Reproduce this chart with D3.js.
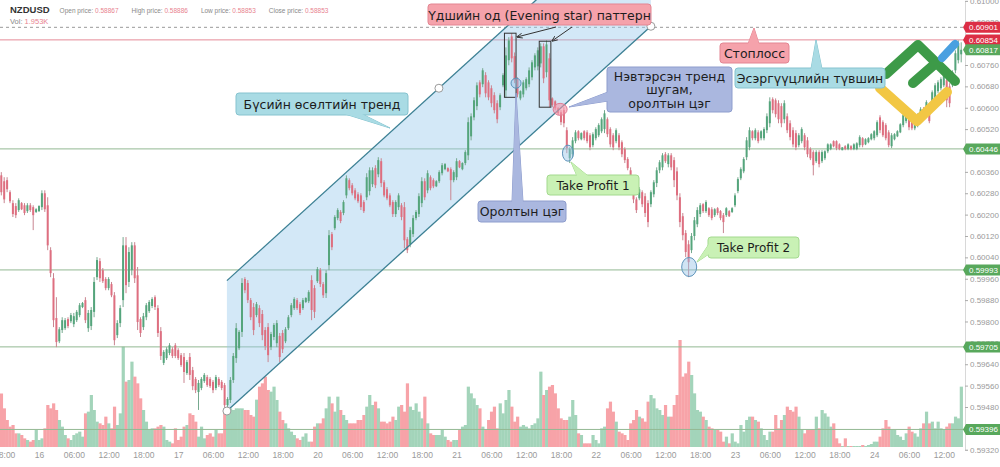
<!DOCTYPE html>
<html><head><meta charset="utf-8">
<script src="https://cdnjs.cloudflare.com/ajax/libs/d3/7.8.5/d3.min.js"></script>
<style>body{margin:0;background:#fff;} svg{display:block;font-family:"DejaVu Sans",Verdana,sans-serif;}</style>
</head><body><svg id="c" width="1000" height="467"></svg>
<script>
// first candle slot (30-minute slots counted from day 16 00:00)
const firstSlot = -13;
const open = [.60347,.60325,.60329,.60284,.60243,.60232,.60217,.60243,.60235,.60213,.60235,.60228,.60210,
.60213,.60228,.60280,.60235,.60067,.59962,.59813,.59726,.59768,.59775,.59809,.59801,.59790,.59805,.59824,.59854,.59880,.59775,.59783,.59836,.59966,.60026,.59992,.59959,.59925,.59940,.59898,.59749,.59794,
.59880,.60085,.59948,.59992,.60085,.59973,.59809,.59779,.59816,.59839,.59858,.59891,.59850,.59764,.59645,.59663,.59682,.59696,.59711,.59693,.59674,.59667,.59607,.59667,.59618,.59585,.59536,.59551,
.59577,.59592,.59585,.59574,.59551,.59585,.59574,.59562,.59487,.59506,.59581,.59663,.59700,.59761,.59959,.59944,.59880,.59854,.59824,.59850,.59828,.59768,.59779,.59704,.59742,.59719,.59746,.59757,
.59726,.59775,.59824,.59850,.59880,.59865,.59850,.59873,.59876,.59955,.59925,.59951,.59992,.59940,.59906,.60011,.60127,.60149,.60187,.60210,.60206,.60272,.60329,.60310,.60291,.60276,.60272,.60247,
.60265,.60288,.60314,.60374,.60351,.60400,.60321,.60295,.60272,.60247,.60202,.60228,.60235,.60228,.60108,.60089,.60127,.60187,.60202,.60243,.60325,.60291,.60340,.60329,.60306,.60325,.60355,.60370,
.60374,.60370,.60329,.60340,.60400,.60370,.60393,.60422,.60493,.60564,.60606,.60695,.60688,.60722,.60695,.60673,.60647,.60617,.60602,.60684,.60665,.60778,.60867,.60793,.60707,.60635,.60650,.60673,
.60688,.60714,.60751,.60755,.60766,.60830,.60733,.60785,.60635,.60624,.60598,.60583,.60591,.60516,.60411,.60426,.60475,.60512,.60482,.60512,.60508,.60497,.60460,.60486,.60497,.60512,.60520,.60557,
.60520,.60497,.60475,.60497,.60471,.60445,.60408,.60366,.60318,.60257,.60261,.60284,.60269,.60243,.60239,.60276,.60318,.60366,.60377,.60426,.60389,.60422,.60404,.60362,.60265,.60194,.60131,.60089,
.60067,.60120,.60164,.60202,.60239,.60213,.60224,.60220,.60198,.60224,.60213,.60198,.60198,.60213,.60210,.60235,.60288,.60336,.60362,.60415,.60452,.60512,.60486,.60508,.60486,.60486,.60516,.60542,
.60632,.60628,.60617,.60606,.60557,.60568,.60542,.60516,.60505,.60460,.60475,.60497,.60478,.60445,.60434,.60400,.60434,.60400,.60411,.60437,.60445,.60475,.60475,.60463,.60441,.60456,.60445,.60456,
.60445,.60445,.60460,.60486,.60463,.60471,.60482,.60486,.60497,.60564,.60546,.60535,.60508,.60456,.60482,.60493,.60508,.60535,.60550,.60572,.60557,.60523,.60535,.60550,.60594,.60587,.60594,.60609,
.60635,.60662,.60673,.60684,.60703,.60680,.60684,.60740,.60778,.60800];
const high = [.60359,.60340,.60340,.60291,.60254,.60243,.60261,.60247,.60243,.60243,.60243,.60235,.60224,
.60235,.60291,.60291,.60265,.60078,.59981,.59891,.59779,.59816,.59813,.59816,.59832,.59832,.59843,.59869,.59873,.59891,.59843,.59854,.59966,.60041,.60037,.60000,.59966,.59966,.59948,.59910,.59805,.59861,
.60116,.60116,.60078,.60097,.60097,.60004,.59816,.59832,.59869,.59880,.59891,.59898,.59861,.59779,.59693,.59704,.59719,.59704,.59719,.59700,.59682,.59682,.59656,.59682,.59630,.59592,.59581,.59592,
.59607,.59600,.59592,.59581,.59600,.59592,.59581,.59570,.59517,.59592,.59682,.59794,.59768,.59962,.59966,.59955,.59888,.59869,.59873,.59861,.59843,.59779,.59794,.59761,.59794,.59805,.59757,.59768,
.59779,.59824,.59869,.59891,.59888,.59873,.59888,.59891,.59917,.59973,.59936,.60004,.60000,.59948,.59992,.60142,.60135,.60198,.60224,.60217,.60254,.60347,.60336,.60318,.60299,.60284,.60280,.60254,
.60355,.60377,.60377,.60385,.60415,.60411,.60329,.60303,.60280,.60254,.60254,.60280,.60243,.60247,.60116,.60153,.60198,.60217,.60280,.60340,.60336,.60366,.60347,.60336,.60329,.60366,.60393,.60393,
.60377,.60377,.60366,.60411,.60404,.60396,.60441,.60564,.60579,.60639,.60695,.60703,.60748,.60733,.60703,.60684,.60658,.60628,.60654,.60729,.60826,.60864,.60879,.60807,.60714,.60665,.60703,.60714,
.60751,.60778,.60804,.60826,.60841,.60841,.60852,.60804,.60639,.60628,.60602,.60591,.60602,.60527,.60452,.60490,.60516,.60516,.60508,.60516,.60516,.60505,.60508,.60527,.60542,.60564,.60591,.60564,
.60527,.60505,.60523,.60505,.60478,.60452,.60415,.60377,.60329,.60265,.60303,.60291,.60280,.60254,.60291,.60329,.60377,.60404,.60430,.60434,.60430,.60430,.60415,.60377,.60280,.60206,.60142,.60104,
.60131,.60191,.60228,.60243,.60243,.60254,.60228,.60228,.60224,.60228,.60217,.60206,.60228,.60217,.60228,.60280,.60340,.60377,.60415,.60490,.60527,.60516,.60523,.60516,.60516,.60527,.60579,.60639,
.60639,.60635,.60628,.60617,.60628,.60579,.60553,.60527,.60516,.60505,.60527,.60505,.60490,.60452,.60441,.60441,.60441,.60441,.60441,.60467,.60467,.60478,.60478,.60467,.60452,.60460,.60467,.60460,
.60467,.60471,.60497,.60490,.60486,.60490,.60505,.60516,.60553,.60572,.60553,.60542,.60516,.60505,.60505,.60516,.60542,.60579,.60591,.60579,.60564,.60564,.60579,.60602,.60602,.60628,.60602,.60665,
.60692,.60703,.60714,.60729,.60714,.60692,.60740,.60815,.60852,.60845];
const low = [.60272,.60243,.60284,.60243,.60191,.60187,.60210,.60217,.60198,.60206,.60210,.60142,.60206,
.60210,.60217,.60210,.60067,.59966,.59779,.59704,.59719,.59757,.59768,.59775,.59794,.59779,.59798,.59816,.59850,.59794,.59761,.59768,.59816,.59955,.59948,.59944,.59917,.59917,.59891,.59711,.59738,.59779,
.59854,.59906,.59929,.59973,.59944,.59768,.59742,.59768,.59805,.59832,.59850,.59843,.59742,.59656,.59637,.59656,.59674,.59663,.59663,.59656,.59630,.59570,.59600,.59581,.59543,.59532,.59469,.59543,
.59570,.59555,.59551,.59532,.59543,.59555,.59543,.59458,.59480,.59495,.59570,.59645,.59693,.59742,.59906,.59869,.59805,.59749,.59816,.59779,.59730,.59693,.59648,.59693,.59730,.59704,.59648,.59682,
.59719,.59768,.59816,.59843,.59843,.59824,.59843,.59869,.59869,.59805,.59813,.59944,.59929,.59888,.59888,.59992,.60067,.60142,.60179,.60168,.60198,.60261,.60291,.60272,.60254,.60243,.60217,.60206,
.60254,.60272,.60303,.60299,.60340,.60303,.60265,.60254,.60228,.60191,.60191,.60217,.60179,.60074,.60056,.60078,.60116,.60179,.60191,.60228,.60254,.60280,.60291,.60299,.60303,.60318,.60347,.60366,
.60359,.60254,.60321,.60329,.60374,.60366,.60385,.60404,.60478,.60553,.60591,.60639,.60677,.60639,.60628,.60602,.60579,.60542,.60591,.60677,.60639,.60759,.60770,.60692,.60639,.60628,.60639,.60665,
.60677,.60703,.60740,.60740,.60751,.60692,.60714,.60602,.60602,.60591,.60572,.60535,.60527,.60430,.60393,.60415,.60467,.60478,.60478,.60478,.60467,.60441,.60452,.60478,.60490,.60505,.60505,.60490,
.60452,.60441,.60467,.60441,.60415,.60393,.60366,.60303,.60243,.60206,.60254,.60228,.60191,.60153,.60228,.60265,.60303,.60355,.60366,.60393,.60377,.60366,.60303,.60254,.60153,.60104,.60041,.59966,
.60056,.60104,.60153,.60191,.60206,.60206,.60191,.60179,.60191,.60198,.60179,.60131,.60191,.60191,.60206,.60228,.60280,.60329,.60355,.60404,.60441,.60478,.60478,.60467,.60478,.60478,.60505,.60527,
.60579,.60564,.60542,.60527,.60542,.60505,.60478,.60452,.60441,.60452,.60467,.60441,.60415,.60404,.60347,.60393,.60377,.60393,.60404,.60430,.60441,.60452,.60441,.60441,.60441,.60441,.60441,.60441,
.60441,.60441,.60452,.60452,.60460,.60467,.60478,.60478,.60490,.60505,.60490,.60478,.60452,.60449,.60478,.60490,.60505,.60527,.60542,.60516,.60516,.60516,.60527,.60542,.60553,.60579,.60542,.60602,
.60628,.60654,.60665,.60677,.60602,.60602,.60677,.60729,.60766,.60770];
const close = [.60284,.60257,.60295,.60250,.60202,.60198,.60254,.60220,.60206,.60235,.60217,.60198,.60220,
.60232,.60280,.60220,.60085,.59981,.59805,.59723,.59771,.59805,.59805,.59783,.59824,.59820,.59836,.59861,.59869,.59805,.59832,.59843,.59948,.60030,.59962,.59951,.59925,.59959,.59898,.59730,.59794,.59850,
.60085,.59936,.60060,.60085,.59962,.59798,.59757,.59820,.59861,.59873,.59884,.59854,.59757,.59671,.59686,.59696,.59711,.59671,.59671,.59663,.59637,.59611,.59648,.59600,.59558,.59543,.59570,.59585,
.59600,.59562,.59558,.59543,.59592,.59562,.59551,.59487,.59510,.59581,.59671,.59775,.59761,.59944,.59917,.59880,.59816,.59768,.59865,.59794,.59749,.59708,.59674,.59753,.59787,.59794,.59667,.59696,
.59771,.59816,.59861,.59884,.59850,.59832,.59880,.59888,.59910,.59843,.59836,.59996,.59940,.59898,.59981,.60123,.60078,.60191,.60217,.60176,.60247,.60336,.60299,.60280,.60261,.60250,.60228,.60213,
.60340,.60366,.60366,.60310,.60404,.60318,.60272,.60261,.60235,.60202,.60247,.60272,.60191,.60104,.60067,.60142,.60187,.60210,.60269,.60325,.60265,.60355,.60299,.60306,.60325,.60359,.60385,.60389,
.60362,.60329,.60359,.60400,.60377,.60393,.60434,.60546,.60568,.60628,.60684,.60650,.60740,.60654,.60639,.60617,.60591,.60557,.60647,.60722,.60796,.60852,.60785,.60703,.60650,.60662,.60695,.60707,
.60740,.60770,.60796,.60815,.60830,.60710,.60837,.60628,.60609,.60598,.60579,.60546,.60542,.60449,.60445,.60478,.60508,.60486,.60505,.60486,.60475,.60452,.60501,.60520,.60535,.60557,.60579,.60501,
.60463,.60452,.60516,.60452,.60426,.60404,.60374,.60318,.60257,.60217,.60295,.60239,.60206,.60172,.60284,.60321,.60366,.60396,.60422,.60400,.60422,.60377,.60329,.60272,.60172,.60123,.60060,.60022,
.60120,.60179,.60217,.60235,.60213,.60247,.60198,.60187,.60220,.60206,.60187,.60172,.60224,.60194,.60224,.60272,.60333,.60370,.60408,.60478,.60516,.60486,.60516,.60475,.60512,.60520,.60568,.60624,
.60591,.60576,.60557,.60542,.60617,.60516,.60490,.60463,.60452,.60497,.60520,.60452,.60426,.60411,.60385,.60434,.60389,.60434,.60437,.60463,.60463,.60456,.60449,.60445,.60452,.60445,.60463,.60445,
.60463,.60467,.60490,.60460,.60482,.60486,.60501,.60512,.60546,.60516,.60497,.60486,.60460,.60497,.60501,.60512,.60538,.60572,.60583,.60527,.60523,.60557,.60572,.60594,.60561,.60621,.60550,.60658,
.60684,.60695,.60707,.60722,.60628,.60617,.60733,.60804,.60841,.60817];
const volume = [1070,773,540,407,440,273,273,240,173,140,107,140,340,
140,173,373,840,773,873,740,540,407,240,173,140,240,273,307,207,673,707,1040,740,507,473,440,607,473,373,807,440,673,
2007,1307,1340,1707,1407,1273,973,740,507,340,373,373,407,440,407,140,107,73,373,140,207,407,440,673,640,507,207,407,
173,240,273,207,340,273,273,740,740,773,740,773,773,773,740,740,640,607,947,1207,1273,1407,1140,1107,1207,940,707,540,
473,373,307,240,173,140,207,273,107,107,407,473,473,573,773,1007,873,707,1007,740,640,540,473,473,473,540,540,640,
807,1040,840,907,773,507,507,473,507,607,540,807,840,707,1273,807,740,873,707,573,1007,473,273,240,240,240,340,207,
140,107,140,140,340,407,440,1207,1073,973,840,773,407,340,540,707,807,373,873,673,940,1140,807,507,607,407,440,407,
373,440,473,573,1507,1040,1140,1207,1240,1073,773,573,540,540,607,940,640,273,240,73,73,73,240,140,73,373,407,773,
907,707,507,307,273,240,140,473,540,740,607,573,507,907,1040,973,773,740,640,840,607,607,840,1040,2140,1407,1473,1707,
1440,1073,740,707,607,540,407,373,340,340,307,107,207,73,273,107,73,440,307,540,607,607,540,507,373,240,140,307,
307,640,373,540,640,807,740,707,807,607,340,273,340,340,340,607,373,740,673,607,407,473,173,73,20,173,20,20,
20,20,20,40,20,40,60,107,107,207,373,540,407,340,340,240,207,140,273,407,307,273,207,373,473,707,473,507,
373,507,373,340,407,473,473,607,573,1207];
const tickLabels = ["18:00","16","06:00","12:00","18:00","17","06:00","12:00","18:00","20","06:00","12:00","18:00","21","06:00","12:00","18:00","22","06:00","12:00","18:00","23","06:00","12:00","18:00","24","06:00","12:00"];
const tickFirstSlot = -12, tickEvery = 12;
const priceTicks = [0.5932,0.594,0.5948,0.5956,0.5964,0.5972,0.598,0.5988,0.5996,0.6004,0.6012,0.602,0.6028,0.6036,0.6044,0.6052,0.606,0.6068,0.6076,0.6084,0.6092,0.61];
const levelLines = [0.60446, 0.59993, 0.59705, 0.59396];
const stopLine = 0.60901, resistLine = 0.60854;
const badgeValues = [0.60901, 0.60854, 0.60817, 0.60446, 0.59993, 0.59705, 0.59396];
const badgeKinds  = ["red","red","green","green","green","green","green"];
const channelSlots = [64.8, 211, 137.9];
const channelPrices = [0.59465, 0.60905, 0.60673];
const starBoxSlots = [[160.5,164.5],[172.5,176.5]];
const starBoxPrices = [[0.60639,0.60879],[0.60602,0.60849]];
const markSlots = [164.5, 179.7, 182.4, 224.2];
const markPrices = [0.60692, 0.60594, 0.60430, 0.60004];
const header = {sym:"NZDUSD", open:"0.58867", high:"0.58886", low:"0.58853", close:"0.58853", vol:"1.953K"};

const svg = d3.select("#c");
const W = 965, H = 447;
const N = open.length;
const slots = d3.range(N).map(k => firstSlot + k);
const x = d3.scaleLinear().domain([firstSlot - 0.5, firstSlot + N - 0.5]).range([-0.15, 962.65]);
const step = x(1) - x(0);
const y = d3.scaleLinear().domain([0.5932, 0.61]).range([449.75, 0.87]);
const yv = d3.scaleLinear().domain([0, 2140]).range([H, 340]);
const AX = "Liberation Sans, Arial, sans-serif";

const defs = svg.append("defs");
defs.append("clipPath").attr("id","clip").append("rect").attr("x",0).attr("y",0).attr("width",W).attr("height",H);
const plot = svg.append("g").attr("clip-path","url(#clip)");

const up = k => close[k] >= open[k];
// volume
plot.append("g").selectAll("rect").data(slots).join("rect")
  .attr("x", (s) => x(s) - step/2).attr("width", step + 0.3)
  .attr("y", (s,k) => yv(volume[k])).attr("height", (s,k) => H - yv(volume[k]))
  .attr("fill", (s,k) => up(k) ? "#a3d4ba" : "#f7a3a8");

// horizontal levels
plot.append("g").selectAll("line").data(levelLines).join("line")
  .attr("x1",0).attr("x2",W).attr("y1",d=>y(d)).attr("y2",d=>y(d))
  .attr("stroke","#93b893").attr("stroke-width",1);
plot.append("line").attr("x1",0).attr("x2",W).attr("y1",y(resistLine)).attr("y2",y(resistLine)).attr("stroke","#e58a97").attr("stroke-width",1);
plot.append("line").attr("x1",0).attr("x2",W).attr("y1",y(stopLine)).attr("y2",y(stopLine)).attr("stroke","#9a9a9a").attr("stroke-dasharray","3,3");

// channel
const cp = channelSlots.map((s,k)=>[x(s), y(channelPrices[k])]);
const baseAt = px => cp[0][1] + (cp[1][1]-cp[0][1])*(px-cp[0][0])/(cp[1][0]-cp[0][0]);
const dy = cp[2][1] - baseAt(cp[2][0]);
plot.append("path").attr("d", `M${cp[0][0]},${cp[0][1]}L${cp[1][0]},${cp[1][1]}L${cp[1][0]},${cp[1][1]+dy}L${cp[0][0]},${cp[0][1]+dy}Z`)
  .attr("fill","rgba(150,200,235,0.42)");

// candles
const cg = plot.append("g");
cg.selectAll("line").data(slots).join("line")
  .attr("x1",s=>x(s)).attr("x2",s=>x(s))
  .attr("y1",(s,k)=>y(high[k])).attr("y2",(s,k)=>y(low[k]))
  .attr("stroke",(s,k)=>up(k)?"#76a98f":"#c98590").attr("stroke-width",1);
cg.selectAll("rect").data(slots).join("rect")
  .attr("x",s=>x(s)-1).attr("width",2)
  .attr("y",(s,k)=>y(Math.max(open[k],close[k])))
  .attr("height",(s,k)=>Math.max(1, Math.abs(y(open[k])-y(close[k]))))
  .attr("fill",(s,k)=>up(k)?"#55a57c":"#de6f80");

// channel lines
plot.append("line").attr("x1",cp[0][0]).attr("y1",cp[0][1]).attr("x2",cp[1][0]).attr("y2",cp[1][1]).attr("stroke","#3b7f93").attr("stroke-width",1.3);
plot.append("line").attr("x1",cp[0][0]).attr("y1",cp[0][1]+dy).attr("x2",cp[1][0]).attr("y2",cp[1][1]+dy).attr("stroke","#3b7f93").attr("stroke-width",1.3);
plot.append("g").selectAll("circle").data(cp).join("circle").attr("cx",d=>d[0]).attr("cy",d=>d[1]).attr("r",4)
  .attr("fill","#fff").attr("stroke","#9a9a9a");

// evening star boxes
plot.append("g").selectAll("rect").data(starBoxSlots).join("rect")
  .attr("x",d=>x(d[0])).attr("width",d=>x(d[1])-x(d[0]))
  .attr("y",(d,k)=>y(starBoxPrices[k][1])).attr("height",(d,k)=>y(starBoxPrices[k][0])-y(starBoxPrices[k][1]))
  .attr("fill","none").attr("stroke","#333").attr("stroke-width",1);

// markers
const mStyle = [["rgba(150,195,230,0.45)","#5c93bb",5,5],["rgba(245,150,170,0.6)","#e07b92",7,6],["rgba(150,195,230,0.45)","#5c93bb",5.5,8],["rgba(150,195,230,0.45)","#5c93bb",7.5,9.5]];
plot.append("g").selectAll("ellipse").data(markSlots).join("ellipse")
  .attr("cx",s=>x(s)).attr("cy",(s,k)=>y(markPrices[k]))
  .attr("rx",(s,k)=>mStyle[k][2]).attr("ry",(s,k)=>mStyle[k][3])
  .attr("fill",(s,k)=>mStyle[k][0]).attr("stroke",(s,k)=>mStyle[k][1]);

// arrows to boxes
defs.append("marker").attr("id","ah").attr("viewBox","0 0 10 10").attr("refX",9).attr("refY",5)
  .attr("markerWidth",6).attr("markerHeight",6).attr("orient","auto")
  .append("path").attr("d","M0,1L10,5L0,9").attr("fill","none").attr("stroke","#333").attr("stroke-width",1.5);
svg.append("line").attr("x1",556).attr("y1",27).attr("x2",517).attr("y2",37).attr("stroke","#333").attr("marker-end","url(#ah)");
svg.append("line").attr("x1",572).attr("y1",27).attr("x2",552).attr("y2",41).attr("stroke","#333").attr("marker-end","url(#ah)");

// logo
const logo = svg.append("g").attr("stroke-linecap","round").attr("stroke-linejoin","round").attr("fill","none");
logo.append("path").attr("d","M880,88 L917,121 L947,92").attr("stroke","#f2c744").attr("stroke-width",10);
logo.append("path").attr("d","M886,74 L918,45 L955,81").attr("stroke","#3d9a48").attr("stroke-width",10);
logo.append("path").attr("d","M913,83 L936,63").attr("stroke","#3d9a48").attr("stroke-width",10);
logo.append("path").attr("d","M942,58 L955,44").attr("stroke","#4aa0e0").attr("stroke-width",8);

// callouts
function callout(r, tri, fill, stroke, lines, fs, baselines){
  const g = svg.append("g");
  if (tri) g.append("path").attr("d","M"+tri.map(p=>p.join(",")).join("L")+"Z").attr("fill",fill).attr("stroke",stroke);
  g.append("rect").attr("x",r[0]).attr("y",r[1]).attr("width",r[2]-r[0]).attr("height",r[3]-r[1]).attr("rx",3)
    .attr("fill",fill).attr("stroke",stroke);
  if (tri) g.append("path").attr("d","M"+tri.map(p=>p.join(",")).join("L")+"Z").attr("fill",fill).attr("stroke","none");
  lines.forEach((t,k)=>g.append("text").attr("x",(r[0]+r[2])/2).attr("y",baselines[k]).attr("text-anchor","middle")
    .attr("font-size",fs).attr("fill","#1d1d1d").text(t));
}
callout([428,4,651,25], null, "#f5a2ab", "#e38592", ["Үдшийн од (Evening star) паттерн"], 12.5, [19.5]);
callout([236,93,408,115], [[345,114],[362,114],[390,128]], "#a9dbe4", "#86c3cf", ["Бүсийн өсөлтийн тренд"], 12.5, [108.5]);
callout([478,201,566,222], [[512,202],[523,202],[516,93]], "#aab7df", "#8e9dcd", ["Оролтын цэг"], 12.5, [216]);
callout([607,67,732,112], [[608,92],[608,101],[569,107]], "#aab7df", "#8e9dcd", ["Нэвтэрсэн тренд","шугам,","оролтын цэг"], 12.5, [80.5,94,107.5]);
callout([547,175,639,195], [[577,176],[588,176],[571,162]], "#c9f1b5", "#a3d98e", ["Take Profit 1"], 12, [189.5]);
callout([708,237,799,258], [[709,244],[709,254],[697,262]], "#c9f1b5", "#a3d98e", ["Take Profit 2"], 12, [252]);
callout([720,43,789,63], [[748,44],[759,44],[754,28]], "#f5a2ab", "#e38592", ["Стоплосс"], 12.5, [57.5]);
callout([735,68,885,88], [[811,69],[822,69],[816,40]], "#a9dbe4", "#86c3cf", ["Эсэргүүцлийн түвшин"], 12.5, [82.5]);

// right axis (ticks fully hidden behind a price badge are skipped)
const shownTicks = priceTicks.filter(t => !badgeValues.some(b => Math.abs(b - t) < 0.0001));
const ax = svg.append("g").attr("transform",`translate(${W},0)`)
  .call(d3.axisRight(y).tickValues(shownTicks).tickFormat(d3.format(".5f")).tickSize(3).tickPadding(2));
ax.select(".domain").attr("stroke","#d8d8d8");
ax.selectAll(".tick line").attr("stroke","#aaa");
ax.selectAll("text").attr("fill","#9a9a9a").attr("font-size",8).attr("font-family",AX);

// price badges
const bg = svg.append("g");
badgeValues.forEach((v,k)=>{
  const c = badgeKinds[k]==="red" ? "#dc2e45" : "#58a85c";
  const yy = y(v);
  bg.append("path").attr("d",`M963,${yy} L966,${yy-5.5} L1000,${yy-5.5} L1000,${yy+5.5} L966,${yy+5.5} Z`).attr("fill",c);
  bg.append("text").attr("x",969).attr("y",yy+3).attr("font-size",8).attr("font-family",AX).attr("fill","#fff").text(d3.format(".5f")(v));
});

// bottom axis
const tickSlots = tickLabels.map((t,k)=>tickFirstSlot + k*tickEvery);
const bx = svg.append("g").attr("transform",`translate(0,${H})`)
  .call(d3.axisBottom(x).tickValues(tickSlots).tickFormat((d,k)=>tickLabels[k]).tickSize(0).tickPadding(5));
bx.select(".domain").remove();
bx.selectAll("text").attr("fill","#9a9a9a").attr("font-size",8.5).attr("font-family",AX);

// header
const hd = svg.append("text").attr("x",10).attr("y",12.5).attr("font-size",6.5).attr("fill","#888").attr("font-family",AX);
hd.append("tspan").attr("font-size",9.5).attr("font-weight","bold").attr("fill","#333").text(header.sym);
[["Open price: ",header.open],["High price: ",header.high],["Low price: ",header.low],["Close price: ",header.close]].forEach(([a,b],k)=>{
  hd.append("tspan").attr("dx", k===0?10:13).text(a);
  hd.append("tspan").attr("fill","#e8838f").text(b);
});
const vt = svg.append("text").attr("x",10).attr("y",24).attr("font-size",7.5).attr("fill","#888").attr("font-family",AX);
vt.append("tspan").text("Vol: ");
vt.append("tspan").attr("fill","#e8838f").text(header.vol);
</script></body></html>
